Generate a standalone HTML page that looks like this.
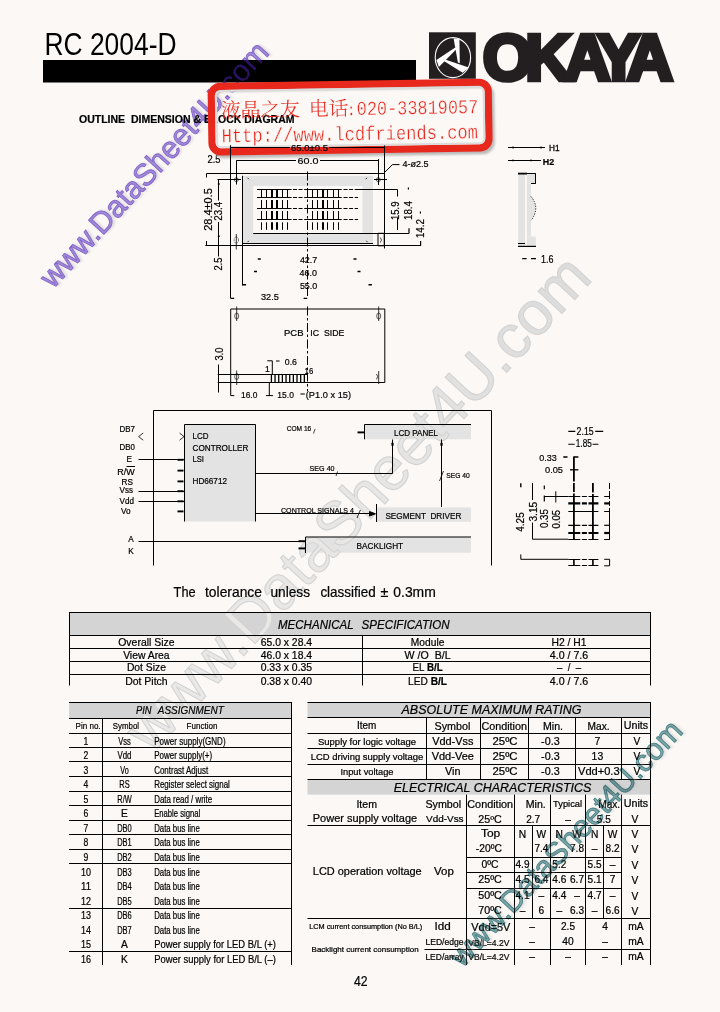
<!DOCTYPE html>
<html lang="en"><head><meta charset="utf-8"><title>RC 2004-D</title>
<style>
html,body{margin:0;padding:0;background:#fcf8f5;}
body{width:720px;height:1012px;overflow:hidden;position:relative;}
svg{position:absolute;left:0;top:0;display:block;}
text{font-family:"Liberation Sans",sans-serif;fill:#000;stroke:#000;stroke-width:0.2px;white-space:pre;}
.b{font-weight:bold;}
.tb text{stroke:#000;stroke-width:0.22px;}
.i{font-style:italic;}
.ln path,.ln line,.ln circle,.ln ellipse{stroke:#000;fill:none;}
.stamp text{font-family:"Liberation Mono","Noto Serif CJK SC",monospace;fill:#e8261c;stroke:#fcf8f5;stroke-width:0.35px;}
</style></head><body>
<svg width="720" height="1012" viewBox="0 0 720 1012">
<defs><filter id="bl" x="-5%" y="-50%" width="110%" height="200%"><feGaussianBlur stdDeviation="0.9"/></filter><filter id="bl2" x="-5%" y="-5%" width="110%" height="110%"><feGaussianBlur stdDeviation="1.2"/></filter></defs>
<rect x="0" y="0" width="720" height="1012" fill="#fcf8f5" stroke="none" />
<g id="fills"><rect x="242.5" y="175.8" width="130.5" height="68.2" fill="#e3e3e3" stroke="none" /><rect x="253.2" y="186" width="109.3" height="47.3" fill="#fcf8f5" stroke="none" /><rect x="518.2" y="173.5" width="6.8" height="72.8" fill="#e3e3e3" stroke="none" /><rect x="526.8" y="173.5" width="9" height="10" fill="#e3e3e3" stroke="none" /><rect x="526.8" y="183.5" width="4.2" height="53" fill="#e3e3e3" stroke="none" /><rect x="526.8" y="236.5" width="9" height="9.8" fill="#e3e3e3" stroke="none" /><path d="M531 196.5Q540.5 208 531 220.5Z" fill="#e3e3e3" stroke="none"/><rect x="184.5" y="424.5" width="71.5" height="97" fill="#e3e3e3" stroke="none" /><rect x="364.7" y="425" width="106.3" height="14.3" fill="#e3e3e3" stroke="none" /><rect x="376.8" y="507.4" width="94.2" height="14.4" fill="#e3e3e3" stroke="none" /><rect x="305.5" y="537.2" width="165.5" height="15.5" fill="#e3e3e3" stroke="none" /><rect x="69" y="612" width="581.5" height="23.5" fill="#d4d4d4" stroke="none" /><rect x="69" y="702" width="222.5" height="16.2" fill="#d4d4d4" stroke="none" /><rect x="307.5" y="702.5" width="343" height="15" fill="#d4d4d4" stroke="none" /><rect x="307.5" y="780" width="343" height="14.6" fill="#d4d4d4" stroke="none" /><defs><linearGradient id="wg" gradientUnits="userSpaceOnUse" x1="0" y1="0" x2="650" y2="0"><stop offset="0" stop-color="#eae9e8"/><stop offset="0.55" stop-color="#e7e6e5"/><stop offset="0.8" stop-color="#dfdfdf"/><stop offset="1" stop-color="#dcdcdc"/></linearGradient></defs><g id="wm2" transform="translate(151.6 754.8) rotate(-47.1)"><text x="0" y="0" font-size="61.2" textLength="649.6" lengthAdjust="spacingAndGlyphs" style="fill:url(#wg);stroke:#d3d3d3;stroke-width:1.1px">www.DataSheet4U.com</text></g></g>
<g id="header">
<text x="44.5" y="54.7" font-size="31" textLength="132" lengthAdjust="spacingAndGlyphs" style="stroke:none">RC 2004-D</text>
<rect x="429" y="32.3" width="46.8" height="46.5" fill="#231f20" stroke="none" />
<ellipse cx="452.9" cy="57.6" rx="17.7" ry="20" fill="none" stroke="#fff" stroke-width="1.1"/>
<g fill="#fff" stroke="none"><path d="M453.6 38.4 L459.4 38.8 L459.8 63.2 L457.9 62.4 Z"/><path d="M436.4 59.9 L438.9 66.9 L456.8 48.8 L455.2 47.5 Z"/><path d="M468.7 67.6 L462.7 72.7 L443.5 60.8 L445.8 59.8 Z"/></g>
<text x="482.8" y="80.4" font-size="64" class="b" letter-spacing="-7.3" style="fill:#231f20;stroke:#231f20;stroke-width:4.6px;stroke-linejoin:miter">OKAYA</text>
</g>
<defs><clipPath id="barclip"><rect x="43" y="60" width="373" height="22.5"/></clipPath></defs>
<g id="wm1" transform="translate(53.1 289.6) rotate(-47.4)">
<text x="2.2" y="2.2" font-size="30.55" textLength="321" lengthAdjust="spacingAndGlyphs" style="fill:#b5b5bd;stroke:none" filter="url(#bl)" opacity="0.45">www.DataSheet4U.com</text>
<text x="0" y="0" font-size="30.55" textLength="321" lengthAdjust="spacingAndGlyphs" style="fill:#a08ad9;stroke:#8566c8;stroke-width:0.9px">www.DataSheet4U.com</text>
</g>
<rect x="43" y="60" width="373" height="22.5" fill="#000" stroke="none" />
<g clip-path="url(#barclip)"><g transform="translate(53.1 289.6) rotate(-47.4)">
<text x="0" y="0" font-size="30.55" textLength="321" lengthAdjust="spacingAndGlyphs" style="fill:#2c1262;stroke:none">www.DataSheet4U.com</text>
</g></g>
<text x="79" y="123.4" font-size="10" textLength="215.5" lengthAdjust="spacingAndGlyphs" class="b">OUTLINE  DIMENSION &amp; BLOCK DIAGRAM</text>
<g id="outline" class="ln">
<path d="M230.8 147.5L290 147.5" stroke-width="1" />
<path d="M329 147.5L384.2 147.5" stroke-width="1" />
<text x="309.5" y="150.6" font-size="9.6" text-anchor="middle" textLength="37" lengthAdjust="spacingAndGlyphs">65.0±0.5</text>
<path d="M236.3 160.5L296 160.5" stroke-width="1" />
<path d="M320 160.5L378.3 160.5" stroke-width="1" />
<text x="308" y="164" font-size="9.6" text-anchor="middle" textLength="21" lengthAdjust="spacingAndGlyphs">60.0</text>
<text x="207.5" y="163.4" font-size="10" textLength="13" lengthAdjust="spacingAndGlyphs">2.5</text>
<path d="M230.5 145.5L230.5 298.5" stroke-width="1" />
<path d="M384.5 145.5L384.5 248.5" stroke-width="1" />
<path d="M236.5 160.5L236.5 184.5" stroke-width="1" />
<path d="M378.5 159L378.5 185" stroke-width="1" />
<path d="M206.3 173.5L384.2 173.5" stroke-width="1" />
<path d="M205.3 245.5L421 245.5" stroke-width="1" />
<path d="M206.5 173.8L206.5 177.5" stroke-width="1" />
<path d="M206.5 241L206.5 245.8" stroke-width="1" />
<path d="M231 179.5L241 179.5" stroke-width="1" />
<path d="M374 179.5L387 179.5" stroke-width="1" />
<circle cx="236.3" cy="179.7" r="2" stroke-width="0.6"/>
<circle cx="378.3" cy="179.7" r="2" stroke-width="0.6"/>
<path d="M236.3 234L236.3 249.5" stroke-width="0.8" />
<ellipse cx="236.3" cy="240" rx="2.2" ry="3.2" stroke-width="0.6" stroke-dasharray="1.5 1"/>
<path d="M378 233.3H384.2V245.8H378Z" stroke-width="1" />
<path d="M380.3 237.5Q382.6 240 380.3 242.6" stroke-width="0.7" />
<path d="M242.5 175.8L242.5 285.5" stroke-width="1" />
<path d="M242.5 243.5L373 243.5" stroke-width="1" />
<path d="M253.2 233.5L409 233.5" stroke-width="1" />
<path d="M247.5 177.8l1.4 1.4M247.5 242.2l1.4 -1.4M367 177.8l-1.2 1.4M367.5 242.2l-1.2 -1.4" stroke-width="0.8" />
<text transform="translate(211.6 209.5) rotate(-90)" font-size="10" text-anchor="middle" textLength="42.5" lengthAdjust="spacingAndGlyphs">28.4±0.5</text>
<path d="M217.5 179.5L231 179.5" stroke-width="1" />
<path d="M218.5 179.7L218.5 200.5" stroke-width="1" />
<path d="M218.5 222L218.5 256.5" stroke-width="1" />
<text transform="translate(222.4 211.3) rotate(-90)" font-size="10" text-anchor="middle" textLength="19" lengthAdjust="spacingAndGlyphs">23.4</text>
<path d="M218.8 183.2v1.6M218.8 235.4v1.6" stroke-width="1.8" />
<text transform="translate(222 264) rotate(-90)" font-size="10" text-anchor="middle" textLength="13" lengthAdjust="spacingAndGlyphs">2.5</text>
<path d="M307.5 171.5L307.5 298.5" stroke-width="1" stroke-dasharray="9 2.5 2.5 2.5"/>
<path d="M307.5 306.5L307.5 391" stroke-width="1" stroke-dasharray="9 2.5 2.5 2.5"/>
<path d="M261.5 189.5L261.5 197.5" stroke-width="1" />
<path d="M266.5 189.5L266.5 197.5" stroke-width="1" />
<path d="M272 189.5L272 197.5" stroke-width="2" />
<path d="M277 189.5L277 197.5" stroke-width="2" />
<path d="M282.5 189.5L282.5 197.5" stroke-width="1" />
<path d="M287.5 189.5L287.5 197.5" stroke-width="1" />
<path d="M312.5 189.5L312.5 197.5" stroke-width="1" />
<path d="M317.5 189.5L317.5 197.5" stroke-width="1" />
<path d="M323 189.5L323 197.5" stroke-width="2" />
<path d="M327.5 189.5L327.5 197.5" stroke-width="1" />
<path d="M333.5 189.5L333.5 197.5" stroke-width="1" />
<path d="M338.5 189.5L338.5 197.5" stroke-width="1" />
<path d="M261.5 200L261.5 208" stroke-width="1" />
<path d="M266.5 200L266.5 208" stroke-width="1" />
<path d="M272 200L272 208" stroke-width="2" />
<path d="M277 200L277 208" stroke-width="2" />
<path d="M282.5 200L282.5 208" stroke-width="1" />
<path d="M287.5 200L287.5 208" stroke-width="1" />
<path d="M312.5 200L312.5 208" stroke-width="1" />
<path d="M317.5 200L317.5 208" stroke-width="1" />
<path d="M323 200L323 208" stroke-width="2" />
<path d="M327.5 200L327.5 208" stroke-width="1" />
<path d="M333.5 200L333.5 208" stroke-width="1" />
<path d="M338.5 200L338.5 208" stroke-width="1" />
<path d="M261.5 211L261.5 219" stroke-width="1" />
<path d="M266.5 211L266.5 219" stroke-width="1" />
<path d="M272 211L272 219" stroke-width="2" />
<path d="M277 211L277 219" stroke-width="2" />
<path d="M282.5 211L282.5 219" stroke-width="1" />
<path d="M287.5 211L287.5 219" stroke-width="1" />
<path d="M312.5 211L312.5 219" stroke-width="1" />
<path d="M317.5 211L317.5 219" stroke-width="1" />
<path d="M323 211L323 219" stroke-width="2" />
<path d="M327.5 211L327.5 219" stroke-width="1" />
<path d="M333.5 211L333.5 219" stroke-width="1" />
<path d="M338.5 211L338.5 219" stroke-width="1" />
<path d="M261.5 222.3L261.5 229.8" stroke-width="1" />
<path d="M266.5 222.3L266.5 229.8" stroke-width="1" />
<path d="M272 222.3L272 229.8" stroke-width="2" />
<path d="M277 222.3L277 229.8" stroke-width="2" />
<path d="M282.5 222.3L282.5 229.8" stroke-width="1" />
<path d="M287.5 222.3L287.5 229.8" stroke-width="1" />
<path d="M312.5 222.3L312.5 229.8" stroke-width="1" />
<path d="M317.5 222.3L317.5 229.8" stroke-width="1" />
<path d="M323 222.3L323 229.8" stroke-width="2" />
<path d="M327.5 222.3L327.5 229.8" stroke-width="1" />
<path d="M333.5 222.3L333.5 229.8" stroke-width="1" />
<path d="M338.5 222.3L338.5 229.8" stroke-width="1" />
<path d="M257 189.5L291.5 189.5" stroke-width="1" />
<path d="M293 189.5L304 189.5" stroke-width="1" stroke-dasharray="4 1.6"/>
<path d="M304.2 189.5L341.7 189.5" stroke-width="1" />
<path d="M343.5 189.5L358 189.5" stroke-width="1" stroke-dasharray="4 1.6"/>
<path d="M257 197.5L291.5 197.5" stroke-width="1" />
<path d="M293 197.5L304 197.5" stroke-width="1" stroke-dasharray="4 1.6"/>
<path d="M304.2 197.5L341.7 197.5" stroke-width="1" />
<path d="M343.5 197.5L358 197.5" stroke-width="1" stroke-dasharray="4 1.6"/>
<path d="M257 208.5L291.5 208.5" stroke-width="1" />
<path d="M293 208.5L304 208.5" stroke-width="1" stroke-dasharray="4 1.6"/>
<path d="M304.2 208.5L341.7 208.5" stroke-width="1" />
<path d="M343.5 208.5L358 208.5" stroke-width="1" stroke-dasharray="4 1.6"/>
<path d="M257 219.5L291.5 219.5" stroke-width="1" />
<path d="M293 219.5L304 219.5" stroke-width="1" stroke-dasharray="4 1.6"/>
<path d="M304.2 219.5L341.7 219.5" stroke-width="1" />
<path d="M343.5 219.5L358 219.5" stroke-width="1" stroke-dasharray="4 1.6"/>
<path d="M358 189.5L397.5 189.5" stroke-width="1" />
<path d="M397.5 189.5L397.5 196.5" stroke-width="1" />
<path d="M397.5 218L397.5 230" stroke-width="1" />
<text transform="translate(398.8 210.8) rotate(-90)" font-size="10" text-anchor="middle" textLength="18.5" lengthAdjust="spacingAndGlyphs">15.9</text>
<text transform="translate(411.6 210.5) rotate(-90)" font-size="10" text-anchor="middle" textLength="19" lengthAdjust="spacingAndGlyphs">18.4</text>
<text transform="translate(423.8 228.6) rotate(-90)" font-size="10" text-anchor="middle" textLength="19" lengthAdjust="spacingAndGlyphs">14.2</text>
<path d="M408.4 187.6v2M409 228.3v5.2M420.4 211.6v2M420.6 241v4.8" stroke-width="1.2" />
<path d="M384 173L392.5 164.6H399.5" stroke-width="1" />
<text x="402.5" y="167" font-size="9.2" textLength="26" lengthAdjust="spacingAndGlyphs">4-ø2.5</text>
<path d="M257.8 259h3M353.5 259h3M254 271.5h3M357.5 271.5h3M242.5 284.8h3.6M368.5 284.8h3.4" stroke-width="1.5" />
<text x="308.6" y="262.9" font-size="9.2" text-anchor="middle" textLength="17.4" lengthAdjust="spacingAndGlyphs">42.7</text>
<text x="308.2" y="275.9" font-size="9.2" text-anchor="middle" textLength="17.4" lengthAdjust="spacingAndGlyphs">46.0</text>
<text x="308.6" y="288.7" font-size="9.2" text-anchor="middle" textLength="17.4" lengthAdjust="spacingAndGlyphs">55.0</text>
<text x="261" y="300.3" font-size="9.4" textLength="17.8" lengthAdjust="spacingAndGlyphs">32.5</text>
<path d="M230.8 298.3h3.4M303.6 298.3h3.6" stroke-width="1.3" />
<path d="M230.7 309H384.8V382.5H230.7Z" stroke-width="1" />
<path d="M236.7 306.5L236.7 321" stroke-width="0.8" />
<ellipse cx="236.7" cy="316" rx="2" ry="3" stroke-width="0.6"/>
<path d="M378.7 306.5L378.7 321" stroke-width="0.8" />
<ellipse cx="378.7" cy="316" rx="2" ry="3" stroke-width="0.6"/>
<path d="M236.7 370.5L236.7 385" stroke-width="0.8" />
<ellipse cx="236.7" cy="376.6" rx="2" ry="3" stroke-width="0.6"/>
<path d="M378.7 371L378.7 384" stroke-width="0.8" />
<path d="M376.6 374Q378.6 376.5 376.6 379.4" stroke-width="0.7" />
<text x="284" y="335.6" font-size="9" textLength="19.5" lengthAdjust="spacingAndGlyphs">PCB</text>
<text x="310.3" y="335.6" font-size="9" textLength="34" lengthAdjust="spacingAndGlyphs">IC  SIDE</text>
<text transform="translate(222.5 354) rotate(-90)" font-size="10" text-anchor="middle" textLength="13" lengthAdjust="spacingAndGlyphs">3.0</text>
<path d="M218.5 364.5L218.5 392.5" stroke-width="1" />
<path d="M217.7 374.5L268 374.5" stroke-width="1" />
<path d="M217.7 382.5L231 382.5" stroke-width="1" />
<path d="M268 374.5L307 374.5" stroke-width="1" />
<path d="M271.4 374.3L271.4 382.5" stroke-width="1.3" />
<path d="M275.06 374.3L275.06 382.5" stroke-width="1.3" />
<path d="M278.72 374.3L278.72 382.5" stroke-width="1.3" />
<path d="M282.38 374.3L282.38 382.5" stroke-width="1.3" />
<path d="M286.04 374.3L286.04 382.5" stroke-width="1.3" />
<path d="M289.7 374.3L289.7 382.5" stroke-width="1.3" />
<path d="M293.36 374.3L293.36 382.5" stroke-width="1.3" />
<path d="M297.02 374.3L297.02 382.5" stroke-width="1.3" />
<path d="M300.68 374.3L300.68 382.5" stroke-width="1.3" />
<path d="M304.34 374.3L304.34 382.5" stroke-width="1.3" />
<text x="265" y="372" font-size="8.6">1</text>
<text x="304.6" y="373.6" font-size="8.6" textLength="8.6" lengthAdjust="spacingAndGlyphs">16</text>
<path d="M267.3 360.8H272.3V374M276 361h3.6" stroke-width="1" />
<text x="284.8" y="364.5" font-size="9.5" textLength="12.2" lengthAdjust="spacingAndGlyphs">0.6</text>
<path d="M230.7 382.5V395.6H234.3M269.3 383V395.6M266 395.6h7M300.4 394h4.4" stroke-width="1" />
<text x="241" y="397.7" font-size="9.6" textLength="16.4" lengthAdjust="spacingAndGlyphs">16.0</text>
<text x="277.3" y="397.7" font-size="9.6" textLength="16.6" lengthAdjust="spacingAndGlyphs">15.0</text>
<text x="305.8" y="397.7" font-size="9.6" textLength="45.2" lengthAdjust="spacingAndGlyphs">(P1.0 x 15)</text>
</g>
<g id="side" class="ln">
<path d="M508 147.5L545 147.5" stroke-width="1" />
<path d="M513 146.6v1.8M541 146.6v1.8" stroke-width="1.2" />
<text x="549" y="150.7" font-size="9.4" textLength="10.6" lengthAdjust="spacingAndGlyphs" style="stroke:#000;stroke-width:0.3px">H1</text>
<path d="M508 160.5L541 160.5" stroke-width="1" />
<path d="M513 159.5v1.8M531 159.5v1.8" stroke-width="1.2" />
<text x="542.8" y="164.9" font-size="9.4" textLength="11.4" lengthAdjust="spacingAndGlyphs" class="b">H2</text>
<path d="M531 196.5Q540.5 208 531 220.5" stroke-width="0.9" stroke-dasharray="1.2 1.4"/>
<path d="M518 173.6L527 173.6" stroke-width="1.8" />
<path d="M527 173.5L535.9 173.5" stroke-width="1" />
<path d="M535.5 173.6L535.5 183.5" stroke-width="1" />
<path d="M531 183.5L535.8 183.5" stroke-width="1" />
<path d="M518 243.5L525 243.5" stroke-width="1" />
<path d="M518 246.4L536 246.4" stroke-width="1.2" />
<path d="M522.2 258.7h4.4M531 258.7h5" stroke-width="1.2" />
<text x="541" y="262.6" font-size="10" textLength="12.4" lengthAdjust="spacingAndGlyphs">1.6</text>
</g>
<g id="block" class="ln">
<path d="M153.5 565.5V410.5H491.5V565.5" stroke-width="1" />
<path d="M184.5 521.5V424.5H255.5V521.5" stroke-width="1" />
<text x="192.5" y="439.4" font-size="8.4" textLength="16" lengthAdjust="spacingAndGlyphs">LCD</text>
<text x="192.5" y="451" font-size="8.4" textLength="56" lengthAdjust="spacingAndGlyphs">CONTROLLER</text>
<text x="192.5" y="461.9" font-size="8.4" textLength="11.5" lengthAdjust="spacingAndGlyphs">LSI</text>
<text x="192.5" y="483.7" font-size="8.4" textLength="34.5" lengthAdjust="spacingAndGlyphs">HD66712</text>
<text x="119.6" y="431.8" font-size="8.2" textLength="15.4" lengthAdjust="spacingAndGlyphs">DB7</text>
<text x="119.6" y="449.6" font-size="8.2" textLength="15.4" lengthAdjust="spacingAndGlyphs">DB0</text>
<text x="126.6" y="462.4" font-size="8.2">E</text>
<text x="117.2" y="475" font-size="8.2" textLength="17.4" lengthAdjust="spacingAndGlyphs">R/W</text>
<path d="M126.5 466.5L135 466.5" stroke-width="1" />
<text x="121.6" y="484.6" font-size="8.2" textLength="11.4" lengthAdjust="spacingAndGlyphs">RS</text>
<text x="119.6" y="493.4" font-size="8.2" textLength="13.4" lengthAdjust="spacingAndGlyphs">Vss</text>
<text x="119.6" y="504.2" font-size="8.2" textLength="14.4" lengthAdjust="spacingAndGlyphs">Vdd</text>
<text x="121" y="514.4" font-size="8.2" textLength="9.6" lengthAdjust="spacingAndGlyphs">Vo</text>
<text x="128.2" y="542" font-size="8.2">A</text>
<text x="128.2" y="554.3" font-size="8.2">K</text>
<path d="M143.2 433L138.6 436.6L143.2 440.2M179.6 433L184 436.6L179.6 440.2" stroke-width="0.8" />
<path d="M138.5 459.5L184.5 459.5" stroke-width="1" />
<path d="M138.5 491.5L184.5 491.5" stroke-width="1" />
<path d="M138.5 501.5L184.5 501.5" stroke-width="1" />
<path d="M177.5 459.8L183.5 459.8" stroke-width="1.9" />
<path d="M177.5 470.6L183.5 470.6" stroke-width="1.9" />
<path d="M177.5 481.4L183.5 481.4" stroke-width="1.9" />
<path d="M177.5 491.2L183.5 491.2" stroke-width="1.9" />
<path d="M177.5 501.3L183.5 501.3" stroke-width="1.9" />
<path d="M177.5 511.4L183.5 511.4" stroke-width="1.9" />
<path d="M138.5 541.5L305 541.5" stroke-width="1" />
<path d="M255.5 473.5L392.5 473.5" stroke-width="1" />
<path d="M392.5 473.4L392.5 439.5" stroke-width="1" />
<path d="M255.5 513.5L370 513.5" stroke-width="1" />
<path d="M369.5 511.6L375.5 513.8L369.5 516Z" stroke-width="1" style="fill:#000"/>
<path d="M392.5 442.8v3M441.5 442.8v3" stroke-width="2.2" />
<path d="M441.5 439.5L441.5 507" stroke-width="1" />
<path d="M364.5 439.3V424.5H471" stroke-width="1" />
<path d="M357.5 432.4L364 432.4" stroke-width="1.9" />
<text x="394" y="435.7" font-size="8.2" textLength="44" lengthAdjust="spacingAndGlyphs">LCD PANEL</text>
<text x="286.7" y="430.5" font-size="7.2" textLength="24.6" lengthAdjust="spacingAndGlyphs">COM 16</text>
<path d="M313.5 433.5l1.6 -4.6" stroke-width="0.7" />
<text x="309.6" y="471.4" font-size="7.2" textLength="25" lengthAdjust="spacingAndGlyphs">SEG 40</text>
<path d="M336 476l1.6 -4.6" stroke-width="0.7" />
<text x="446.3" y="477.9" font-size="7.2" textLength="23.4" lengthAdjust="spacingAndGlyphs">SEG 40</text>
<path d="M439.5 481l4 -10" stroke-width="0.8" />
<path d="M376.5 504L376.5 522" stroke-width="1" />
<text x="385.4" y="518.8" font-size="8.4" textLength="76" lengthAdjust="spacingAndGlyphs">SEGMENT  DRIVER</text>
<text x="281" y="513" font-size="7.1" textLength="73" lengthAdjust="spacingAndGlyphs">CONTROL SIGNALS 4</text>
<path d="M357 518l3.4 -8" stroke-width="0.8" />
<path d="M305.5 553V537H471" stroke-width="1" />
<text x="356.5" y="548.8" font-size="8.3" textLength="46.6" lengthAdjust="spacingAndGlyphs">BACKLIGHT</text>
<path d="M298.5 541.2L305 541.2" stroke-width="1.9" />
<path d="M298.5 548.4L305 548.4" stroke-width="1.9" />
</g>
<g id="dots" class="ln">
<text x="576.6" y="434.8" font-size="10.2" textLength="17" lengthAdjust="spacingAndGlyphs">2.15</text>
<path d="M568.3 431.4h7M595.2 431.4h8" stroke-width="1.1" />
<text x="575.8" y="447.2" font-size="10.2" textLength="16" lengthAdjust="spacingAndGlyphs">1.85</text>
<path d="M568.3 444.2h6.4M592.6 444.2h5.8" stroke-width="1.1" />
<text x="539.2" y="460.9" font-size="9.8" textLength="17.6" lengthAdjust="spacingAndGlyphs">0.33</text>
<path d="M563.3 457h4.2M573.9 457H578.4" stroke-width="1.3" />
<text x="545" y="473.4" font-size="9.8" textLength="18" lengthAdjust="spacingAndGlyphs">0.05</text>
<path d="M570 469.8h8.4" stroke-width="1.3" />
<path d="M573.9 456.4L573.9 539.4" stroke-width="1.8" stroke-dasharray="25 1.6 9 1.6 100"/>
<path d="M592.9 483L592.9 539.4" stroke-width="1.8" stroke-dasharray="9.5 1.6 100"/>
<path d="M609.5 483L609.5 539.4" stroke-width="1" stroke-dasharray="6 2 8 2 5 2 100"/>
<path d="M568.3 496.5L598.4 496.5" stroke-width="1" stroke-dasharray="12 1.6 5 1.6 100"/>
<path d="M604.2 496.5L610 496.5" stroke-width="1" />
<path d="M568.3 503.4L598.4 503.4" stroke-width="2.2" stroke-dasharray="12 1.6 5 1.6 100"/>
<path d="M604.2 503.4L610 503.4" stroke-width="2.2" />
<path d="M568.3 511.5L598.4 511.5" stroke-width="1" />
<path d="M604.2 511.5L610 511.5" stroke-width="1" />
<path d="M568.3 525.3L598.4 525.3" stroke-width="1.2" stroke-dasharray="12 1.6 5 1.6 100"/>
<path d="M604.2 525.3L610 525.3" stroke-width="1.2" />
<path d="M568.3 533L598.4 533" stroke-width="2.2" stroke-dasharray="12 1.6 5 1.6 100"/>
<path d="M604.2 533L610 533" stroke-width="2.2" />
<path d="M568.3 539.5L598.4 539.5" stroke-width="1" stroke-dasharray="12 1.6 5 1.6 100"/>
<path d="M604.2 539.5L610 539.5" stroke-width="1" />
<path d="M568.3 559.5L598.4 559.5" stroke-width="1" stroke-dasharray="12 1.6 5 1.6 100"/>
<path d="M568.3 565.5L598.4 565.5" stroke-width="1" stroke-dasharray="12 1.6 5 1.6 100"/>
<path d="M573.9 559.3v6.5M592.9 559.3v6.5" stroke-width="1.6" />
<path d="M604.2 559.3H609.6V565.8H604.2" stroke-width="1" />
<text transform="translate(524.4 522) rotate(-90)" font-size="10" text-anchor="middle" textLength="19.4" lengthAdjust="spacingAndGlyphs">4.25</text>
<path d="M520.8 483.3v4" stroke-width="1.4" />
<text transform="translate(536.6 511.7) rotate(-90)" font-size="10" text-anchor="middle" textLength="19.8" lengthAdjust="spacingAndGlyphs">3.15</text>
<path d="M532.5 483V500M532.5 522.6V539.2H568.3" stroke-width="1" />
<text transform="translate(548.3 518.6) rotate(-90)" font-size="10" text-anchor="middle" textLength="19" lengthAdjust="spacingAndGlyphs">0.35</text>
<path d="M544.3 485.4v3.8M544.3 495.6v6" stroke-width="1.2" />
<path d="M544.3 496.5L568.3 496.5" stroke-width="1" />
<text transform="translate(560.3 519.2) rotate(-90)" font-size="10" text-anchor="middle" textLength="18.4" lengthAdjust="spacingAndGlyphs">0.05</text>
<path d="M555.8 491.3v11.2" stroke-width="1" />
<path d="M520.8 554.4V559.3H568.3" stroke-width="1" />
</g>
<g class="tb">
<text x="173.6" y="596.6" font-size="14.3" textLength="22" lengthAdjust="spacingAndGlyphs">The</text>
<text x="205" y="596.6" font-size="14.3" textLength="57" lengthAdjust="spacingAndGlyphs">tolerance</text>
<text x="270.4" y="596.6" font-size="14.3" textLength="39.6" lengthAdjust="spacingAndGlyphs">unless</text>
<text x="320.4" y="596.6" font-size="14.3" textLength="55.4" lengthAdjust="spacingAndGlyphs">classified</text>
<text x="380.6" y="596.6" font-size="14.3">±</text>
<text x="393.3" y="596.6" font-size="14.3" textLength="42.5" lengthAdjust="spacingAndGlyphs">0.3mm</text>
</g>
<g id="mech" class="ln tb">
<path d="M69 612.5L651 612.5" stroke-width="1" />
<path d="M69.5 612L69.5 685.5" stroke-width="1" />
<path d="M650.5 612L650.5 685.5" stroke-width="1" />
<path d="M69 635.5L651 635.5" stroke-width="1" />
<path d="M69 648.5L651 648.5" stroke-width="1" />
<path d="M69 661.5L651 661.5" stroke-width="1" />
<path d="M69 674.5L651 674.5" stroke-width="1" />
<path d="M362.5 635.5L362.5 685.5" stroke-width="1" />
<text x="278" y="629.3" font-size="12.8" textLength="75.6" lengthAdjust="spacingAndGlyphs" class="i">MECHANICAL</text>
<text x="361.6" y="629.3" font-size="12.8" textLength="88" lengthAdjust="spacingAndGlyphs" class="i">SPECIFICATION</text>
<text x="146.4" y="645.7" font-size="10.6" text-anchor="middle" textLength="56.3" lengthAdjust="spacingAndGlyphs">Overall Size</text>
<text x="286.4" y="645.7" font-size="10.6" text-anchor="middle" textLength="51.4" lengthAdjust="spacingAndGlyphs">65.0 x 28.4</text>
<text x="427.6" y="645.7" font-size="10.6" text-anchor="middle" textLength="33.5" lengthAdjust="spacingAndGlyphs">Module</text>
<text x="569" y="645.7" font-size="10.6" text-anchor="middle" textLength="35" lengthAdjust="spacingAndGlyphs">H2 / H1</text>
<text x="146.4" y="658.8" font-size="10.6" text-anchor="middle" textLength="46.5" lengthAdjust="spacingAndGlyphs">View Area</text>
<text x="286.4" y="658.8" font-size="10.6" text-anchor="middle" textLength="51.4" lengthAdjust="spacingAndGlyphs">46.0 x 18.4</text>
<text x="427.6" y="658.8" font-size="10.6" text-anchor="middle" textLength="46" lengthAdjust="spacingAndGlyphs">W /O  B/L</text>
<text x="569" y="658.8" font-size="10.6" text-anchor="middle" textLength="38.5" lengthAdjust="spacingAndGlyphs">4.0 / 7.6</text>
<text x="146.4" y="671.4" font-size="10.6" text-anchor="middle" textLength="39" lengthAdjust="spacingAndGlyphs">Dot Size</text>
<text x="286.4" y="671.4" font-size="10.6" text-anchor="middle" textLength="51.4" lengthAdjust="spacingAndGlyphs">0.33 x 0.35</text>
<text x="412.6" y="671.4" font-size="10.6" textLength="30" lengthAdjust="spacingAndGlyphs">EL <tspan class="b">B/L</tspan></text>
<text x="569" y="671.4" font-size="10.6" text-anchor="middle" textLength="24" lengthAdjust="spacingAndGlyphs">–  /  –</text>
<text x="146.4" y="684.6" font-size="10.6" text-anchor="middle" textLength="42.5" lengthAdjust="spacingAndGlyphs">Dot Pitch</text>
<text x="286.4" y="684.6" font-size="10.6" text-anchor="middle" textLength="51.4" lengthAdjust="spacingAndGlyphs">0.38 x 0.40</text>
<text x="408.1" y="684.6" font-size="10.6" textLength="39" lengthAdjust="spacingAndGlyphs">LED <tspan class="b">B/L</tspan></text>
<text x="569" y="684.6" font-size="10.6" text-anchor="middle" textLength="38.5" lengthAdjust="spacingAndGlyphs">4.0 / 7.6</text>
</g>
<g id="pins" class="ln tb">
<path d="M69 702.5L292 702.5" stroke-width="1" />
<path d="M291.5 702L291.5 965" stroke-width="1" />
<path d="M102.5 718.5L102.5 965" stroke-width="1" />
<path d="M69 718.5L292 718.5" stroke-width="1" />
<text x="136" y="714.4" font-size="11.6" textLength="15.6" lengthAdjust="spacingAndGlyphs" class="i">PIN</text>
<text x="157.8" y="714.4" font-size="11.6" textLength="66" lengthAdjust="spacingAndGlyphs" class="i">ASSIGNMENT</text>
<text x="75.6" y="729.1" font-size="9.8" textLength="25" lengthAdjust="spacingAndGlyphs">Pin no.</text>
<text x="112.8" y="729.1" font-size="9.8" textLength="26.2" lengthAdjust="spacingAndGlyphs">Symbol</text>
<text x="186.6" y="729.1" font-size="9.8" textLength="30.8" lengthAdjust="spacingAndGlyphs">Function</text>
<path d="M69 733.5L292 733.5" stroke-width="1" />
<path d="M69 747.5L292 747.5" stroke-width="1" />
<path d="M69 761.5L292 761.5" stroke-width="1" />
<path d="M69 776.5L292 776.5" stroke-width="1" />
<path d="M69 791.5L292 791.5" stroke-width="1" />
<path d="M69 805.5L292 805.5" stroke-width="1" />
<path d="M69 820.5L292 820.5" stroke-width="1" />
<path d="M69 834.5L292 834.5" stroke-width="1" />
<path d="M69 849.5L292 849.5" stroke-width="1" />
<path d="M69 863.5L292 863.5" stroke-width="1" />
<path d="M69 908.5L292 908.5" stroke-width="1" />
<path d="M69 951.5L292 951.5" stroke-width="1" />
<text x="86" y="744.5" font-size="10.4" text-anchor="middle" textLength="4.8" lengthAdjust="spacingAndGlyphs">1</text>
<text x="124.5" y="744.5" font-size="10.2" text-anchor="middle" textLength="12.6" lengthAdjust="spacingAndGlyphs">Vss</text>
<text x="154.2" y="744.5" font-size="10.4" textLength="71.4" lengthAdjust="spacingAndGlyphs">Power supply(GND)</text>
<text x="86" y="759.06" font-size="10.4" text-anchor="middle" textLength="4.8" lengthAdjust="spacingAndGlyphs">2</text>
<text x="124.5" y="759.06" font-size="10.2" text-anchor="middle" textLength="14" lengthAdjust="spacingAndGlyphs">Vdd</text>
<text x="154.2" y="759.06" font-size="10.4" textLength="58" lengthAdjust="spacingAndGlyphs">Power supply(+)</text>
<text x="86" y="773.62" font-size="10.4" text-anchor="middle" textLength="4.8" lengthAdjust="spacingAndGlyphs">3</text>
<text x="124.5" y="773.62" font-size="10.2" text-anchor="middle" textLength="8.4" lengthAdjust="spacingAndGlyphs">Vo</text>
<text x="154.2" y="773.62" font-size="10.4" textLength="54" lengthAdjust="spacingAndGlyphs">Contrast Adjust</text>
<text x="86" y="788.18" font-size="10.4" text-anchor="middle" textLength="4.8" lengthAdjust="spacingAndGlyphs">4</text>
<text x="124.5" y="788.18" font-size="10.2" text-anchor="middle" textLength="10.4" lengthAdjust="spacingAndGlyphs">RS</text>
<text x="154.2" y="788.18" font-size="10.4" textLength="75.7" lengthAdjust="spacingAndGlyphs">Register select signal</text>
<text x="86" y="802.74" font-size="10.4" text-anchor="middle" textLength="4.8" lengthAdjust="spacingAndGlyphs">5</text>
<text x="124.5" y="802.74" font-size="10.2" text-anchor="middle" textLength="14.4" lengthAdjust="spacingAndGlyphs">R/W</text>
<text x="154.2" y="802.74" font-size="10.4" textLength="58" lengthAdjust="spacingAndGlyphs">Data read / write</text>
<text x="86" y="817.3" font-size="10.4" text-anchor="middle" textLength="4.8" lengthAdjust="spacingAndGlyphs">6</text>
<text x="124.5" y="817.3" font-size="10.2" text-anchor="middle">E</text>
<text x="154.2" y="817.3" font-size="10.4" textLength="46" lengthAdjust="spacingAndGlyphs">Enable signal</text>
<text x="86" y="831.86" font-size="10.4" text-anchor="middle" textLength="4.8" lengthAdjust="spacingAndGlyphs">7</text>
<text x="124.5" y="831.86" font-size="10.2" text-anchor="middle" textLength="14.6" lengthAdjust="spacingAndGlyphs">DB0</text>
<text x="154.2" y="831.86" font-size="10.4" textLength="45.6" lengthAdjust="spacingAndGlyphs">Data bus line</text>
<text x="86" y="846.42" font-size="10.4" text-anchor="middle" textLength="4.8" lengthAdjust="spacingAndGlyphs">8</text>
<text x="124.5" y="846.42" font-size="10.2" text-anchor="middle" textLength="14.6" lengthAdjust="spacingAndGlyphs">DB1</text>
<text x="154.2" y="846.42" font-size="10.4" textLength="45.6" lengthAdjust="spacingAndGlyphs">Data bus line</text>
<text x="86" y="860.98" font-size="10.4" text-anchor="middle" textLength="4.8" lengthAdjust="spacingAndGlyphs">9</text>
<text x="124.5" y="860.98" font-size="10.2" text-anchor="middle" textLength="14.6" lengthAdjust="spacingAndGlyphs">DB2</text>
<text x="154.2" y="860.98" font-size="10.4" textLength="45.6" lengthAdjust="spacingAndGlyphs">Data bus line</text>
<text x="86" y="875.54" font-size="10.4" text-anchor="middle" textLength="10" lengthAdjust="spacingAndGlyphs">10</text>
<text x="124.5" y="875.54" font-size="10.2" text-anchor="middle" textLength="14.6" lengthAdjust="spacingAndGlyphs">DB3</text>
<text x="154.2" y="875.54" font-size="10.4" textLength="45.6" lengthAdjust="spacingAndGlyphs">Data bus line</text>
<text x="86" y="890.1" font-size="10.4" text-anchor="middle" textLength="10" lengthAdjust="spacingAndGlyphs">11</text>
<text x="124.5" y="890.1" font-size="10.2" text-anchor="middle" textLength="14.6" lengthAdjust="spacingAndGlyphs">DB4</text>
<text x="154.2" y="890.1" font-size="10.4" textLength="45.6" lengthAdjust="spacingAndGlyphs">Data bus line</text>
<text x="86" y="904.66" font-size="10.4" text-anchor="middle" textLength="10" lengthAdjust="spacingAndGlyphs">12</text>
<text x="124.5" y="904.66" font-size="10.2" text-anchor="middle" textLength="14.6" lengthAdjust="spacingAndGlyphs">DB5</text>
<text x="154.2" y="904.66" font-size="10.4" textLength="45.6" lengthAdjust="spacingAndGlyphs">Data bus line</text>
<text x="86" y="919.22" font-size="10.4" text-anchor="middle" textLength="10" lengthAdjust="spacingAndGlyphs">13</text>
<text x="124.5" y="919.22" font-size="10.2" text-anchor="middle" textLength="14.6" lengthAdjust="spacingAndGlyphs">DB6</text>
<text x="154.2" y="919.22" font-size="10.4" textLength="45.6" lengthAdjust="spacingAndGlyphs">Data bus line</text>
<text x="86" y="933.78" font-size="10.4" text-anchor="middle" textLength="10" lengthAdjust="spacingAndGlyphs">14</text>
<text x="124.5" y="933.78" font-size="10.2" text-anchor="middle" textLength="14.6" lengthAdjust="spacingAndGlyphs">DB7</text>
<text x="154.2" y="933.78" font-size="10.4" textLength="45.6" lengthAdjust="spacingAndGlyphs">Data bus line</text>
<text x="86" y="948.34" font-size="10.4" text-anchor="middle" textLength="10" lengthAdjust="spacingAndGlyphs">15</text>
<text x="124.5" y="948.34" font-size="10.2" text-anchor="middle">A</text>
<text x="154.2" y="948.34" font-size="10.6" textLength="121.7" lengthAdjust="spacingAndGlyphs">Power supply for LED B/L (+)</text>
<text x="86" y="962.9" font-size="10.4" text-anchor="middle" textLength="10" lengthAdjust="spacingAndGlyphs">16</text>
<text x="124.5" y="962.9" font-size="10.2" text-anchor="middle">K</text>
<text x="154.2" y="962.9" font-size="10.6" textLength="121.7" lengthAdjust="spacingAndGlyphs">Power supply for LED B/L (–)</text>
</g>
<g id="absmax" class="ln tb">
<path d="M307.5 702.5L651 702.5" stroke-width="1" />
<path d="M650.5 702L650.5 965" stroke-width="1" />
<path d="M307.5 717.5L650.5 717.5" stroke-width="1" />
<path d="M307.5 733.5L650.5 733.5" stroke-width="1" />
<path d="M307.5 748.5L650.5 748.5" stroke-width="1" />
<path d="M307.5 764.5L650.5 764.5" stroke-width="1" />
<path d="M307.5 779.5L650.5 779.5" stroke-width="1" />
<path d="M426.5 717.6L426.5 779.4" stroke-width="1" />
<path d="M480.5 717.6L480.5 779.4" stroke-width="1" />
<path d="M528.5 717.6L528.5 779.4" stroke-width="1" />
<path d="M575.5 717.6L575.5 779.4" stroke-width="1" />
<path d="M621.5 717.6L621.5 779.4" stroke-width="1" />
<text x="401.5" y="714.2" font-size="12.4" textLength="180" lengthAdjust="spacingAndGlyphs" class="i">ABSOLUTE MAXIMUM RATING</text>
<text x="366.7" y="729.4" font-size="10.4" text-anchor="middle" textLength="19.4" lengthAdjust="spacingAndGlyphs">Item</text>
<text x="452.4" y="730" font-size="10.9" text-anchor="middle" textLength="35.8" lengthAdjust="spacingAndGlyphs">Symbol</text>
<text x="504.2" y="729.6" font-size="10.4" text-anchor="middle" textLength="45.6" lengthAdjust="spacingAndGlyphs">Condition</text>
<text x="553" y="729.8" font-size="10.2" text-anchor="middle" textLength="20" lengthAdjust="spacingAndGlyphs">Min.</text>
<text x="598.6" y="730" font-size="10.2" text-anchor="middle" textLength="22" lengthAdjust="spacingAndGlyphs">Max.</text>
<text x="636" y="729.2" font-size="10.2" text-anchor="middle" textLength="24.4" lengthAdjust="spacingAndGlyphs">Units</text>
<text x="367" y="745" font-size="9.2" text-anchor="middle" textLength="98" lengthAdjust="spacingAndGlyphs">Supply for logic voltage</text>
<text x="452.8" y="745" font-size="10.6" text-anchor="middle" textLength="41.3" lengthAdjust="spacingAndGlyphs">Vdd-Vss</text>
<text x="505" y="745" font-size="10.5" text-anchor="middle" textLength="25" lengthAdjust="spacingAndGlyphs">25ºC</text>
<text x="550.4" y="745" font-size="10.4" text-anchor="middle" textLength="18.6" lengthAdjust="spacingAndGlyphs">-0.3</text>
<text x="597.4" y="745" font-size="10.4" text-anchor="middle">7</text>
<text x="637" y="745" font-size="10.2" text-anchor="middle">V</text>
<text x="367" y="760.2" font-size="9.2" text-anchor="middle" textLength="112.5" lengthAdjust="spacingAndGlyphs">LCD driving supply voltage</text>
<text x="452.8" y="760.2" font-size="10.6" text-anchor="middle" textLength="42.3" lengthAdjust="spacingAndGlyphs">Vdd-Vee</text>
<text x="505" y="760.2" font-size="10.5" text-anchor="middle" textLength="25" lengthAdjust="spacingAndGlyphs">25ºC</text>
<text x="550.4" y="760.2" font-size="10.4" text-anchor="middle" textLength="18.6" lengthAdjust="spacingAndGlyphs">-0.3</text>
<text x="597.4" y="760.2" font-size="10.4" text-anchor="middle" textLength="11.6" lengthAdjust="spacingAndGlyphs">13</text>
<text x="637" y="760.2" font-size="10.2" text-anchor="middle">V</text>
<text x="367" y="775" font-size="9.2" text-anchor="middle" textLength="53" lengthAdjust="spacingAndGlyphs">Input voltage</text>
<text x="452.8" y="775" font-size="10.6" text-anchor="middle" textLength="15.5" lengthAdjust="spacingAndGlyphs">Vin</text>
<text x="505" y="775" font-size="10.5" text-anchor="middle" textLength="25" lengthAdjust="spacingAndGlyphs">25ºC</text>
<text x="550.4" y="775" font-size="10.4" text-anchor="middle" textLength="18.6" lengthAdjust="spacingAndGlyphs">-0.3</text>
<text x="598.8" y="775" font-size="10.4" text-anchor="middle" textLength="41.6" lengthAdjust="spacingAndGlyphs">Vdd+0.3</text>
<text x="637" y="775" font-size="10.2" text-anchor="middle">V</text>
</g>
<g id="elec" class="ln tb">
<text x="393.8" y="791.8" font-size="12.6" textLength="197.5" lengthAdjust="spacingAndGlyphs" class="i">ELECTRICAL CHARACTERISTICS</text>
<path d="M466.5 794.6L466.5 965" stroke-width="1" />
<path d="M514.5 794.6L514.5 965" stroke-width="1" />
<path d="M550.5 794.6L550.5 965" stroke-width="1" />
<path d="M585.5 794.6L585.5 965" stroke-width="1" />
<path d="M621.5 794.6L621.5 965" stroke-width="1" />
<path d="M532.5 825.8L532.5 918.5" stroke-width="1" />
<path d="M603.5 825.8L603.5 918.5" stroke-width="1" />
<path d="M307.5 825.5L650.5 825.5" stroke-width="1" />
<path d="M307.5 918.5L650.5 918.5" stroke-width="1" />
<path d="M466 857.5L621.6 857.5" stroke-width="1" />
<path d="M466 872.5L621.6 872.5" stroke-width="1" />
<path d="M466 888.5L621.6 888.5" stroke-width="1" />
<path d="M424.5 949.5L650.5 949.5" stroke-width="1" />
<text x="366.7" y="807.7" font-size="10.8" text-anchor="middle" textLength="20.6" lengthAdjust="spacingAndGlyphs">Item</text>
<text x="443.3" y="807.7" font-size="10.6" text-anchor="middle" textLength="35.8" lengthAdjust="spacingAndGlyphs">Symbol</text>
<text x="490.2" y="807.7" font-size="10.6" text-anchor="middle" textLength="45.8" lengthAdjust="spacingAndGlyphs">Condition</text>
<text x="535.8" y="808" font-size="10.2" text-anchor="middle" textLength="20" lengthAdjust="spacingAndGlyphs">Min.</text>
<text x="567.6" y="807" font-size="9.2" text-anchor="middle" textLength="29" lengthAdjust="spacingAndGlyphs">Typical</text>
<text x="609.2" y="808" font-size="10.2" text-anchor="middle" textLength="22" lengthAdjust="spacingAndGlyphs">Max.</text>
<text x="636" y="806.6" font-size="10.2" text-anchor="middle" textLength="24.4" lengthAdjust="spacingAndGlyphs">Units</text>
<text x="312.8" y="822.1" font-size="10.8" textLength="104.3" lengthAdjust="spacingAndGlyphs">Power supply voltage</text>
<text x="426" y="822.1" font-size="9.4" textLength="37.6" lengthAdjust="spacingAndGlyphs">Vdd-Vss</text>
<text x="490" y="822.6" font-size="10.2" text-anchor="middle" textLength="23.5" lengthAdjust="spacingAndGlyphs">25ºC</text>
<text x="533.2" y="822.5" font-size="10.2" text-anchor="middle" textLength="14" lengthAdjust="spacingAndGlyphs">2.7</text>
<text x="568" y="822.5" font-size="10.2" text-anchor="middle">–</text>
<text x="603.8" y="822.5" font-size="10.2" text-anchor="middle" textLength="14" lengthAdjust="spacingAndGlyphs">5.5</text>
<text x="635" y="822.8" font-size="10.2" text-anchor="middle">V</text>
<text x="490.6" y="837.4" font-size="10.4" text-anchor="middle" textLength="19.3" lengthAdjust="spacingAndGlyphs">Top</text>
<text x="522.5" y="837.6" font-size="10.2" text-anchor="middle" textLength="7.4" lengthAdjust="spacingAndGlyphs">N</text>
<text x="541.4" y="837.6" font-size="10.2" text-anchor="middle" textLength="9.6" lengthAdjust="spacingAndGlyphs">W</text>
<text x="559.3" y="837.6" font-size="10.2" text-anchor="middle" textLength="7.4" lengthAdjust="spacingAndGlyphs">N</text>
<text x="577" y="837.6" font-size="10.2" text-anchor="middle" textLength="9.6" lengthAdjust="spacingAndGlyphs">W</text>
<text x="594.6" y="837.6" font-size="10.2" text-anchor="middle" textLength="7.4" lengthAdjust="spacingAndGlyphs">N</text>
<text x="612.6" y="837.6" font-size="10.2" text-anchor="middle" textLength="9.6" lengthAdjust="spacingAndGlyphs">W</text>
<text x="635" y="838" font-size="10.2" text-anchor="middle">V</text>
<text x="488.8" y="852.3" font-size="10.4" text-anchor="middle" textLength="26" lengthAdjust="spacingAndGlyphs">-20ºC</text>
<text x="541.4" y="852.3" font-size="10.2" text-anchor="middle" textLength="14" lengthAdjust="spacingAndGlyphs">7.4</text>
<text x="577" y="852.3" font-size="10.2" text-anchor="middle" textLength="14" lengthAdjust="spacingAndGlyphs">7.8</text>
<text x="594.6" y="852.3" font-size="10.2" text-anchor="middle">–</text>
<text x="612.6" y="852.3" font-size="10.2" text-anchor="middle" textLength="14" lengthAdjust="spacingAndGlyphs">8.2</text>
<text x="635" y="852.6" font-size="10.2" text-anchor="middle">V</text>
<text x="490" y="868.4" font-size="10.4" text-anchor="middle" textLength="17" lengthAdjust="spacingAndGlyphs">0ºC</text>
<text x="522.5" y="868.4" font-size="10.2" text-anchor="middle" textLength="14" lengthAdjust="spacingAndGlyphs">4.9</text>
<text x="559.3" y="868.4" font-size="10.2" text-anchor="middle" textLength="14" lengthAdjust="spacingAndGlyphs">5.2</text>
<text x="594.6" y="868.4" font-size="10.2" text-anchor="middle" textLength="14" lengthAdjust="spacingAndGlyphs">5.5</text>
<text x="612.6" y="868.4" font-size="10.2" text-anchor="middle">–</text>
<text x="635" y="868.7" font-size="10.2" text-anchor="middle">V</text>
<text x="490" y="883.4" font-size="10.4" text-anchor="middle" textLength="23.5" lengthAdjust="spacingAndGlyphs">25ºC</text>
<text x="522.5" y="883.4" font-size="10.2" text-anchor="middle" textLength="14" lengthAdjust="spacingAndGlyphs">4.5</text>
<text x="541.4" y="883.4" font-size="10.2" text-anchor="middle" textLength="14" lengthAdjust="spacingAndGlyphs">6.4</text>
<text x="559.3" y="883.4" font-size="10.2" text-anchor="middle" textLength="14" lengthAdjust="spacingAndGlyphs">4.6</text>
<text x="577" y="883.4" font-size="10.2" text-anchor="middle" textLength="14" lengthAdjust="spacingAndGlyphs">6.7</text>
<text x="594.6" y="883.4" font-size="10.2" text-anchor="middle" textLength="14" lengthAdjust="spacingAndGlyphs">5.1</text>
<text x="612.6" y="883.4" font-size="10.2" text-anchor="middle">7</text>
<text x="635" y="883.7" font-size="10.2" text-anchor="middle">V</text>
<text x="490" y="899.3" font-size="10.4" text-anchor="middle" textLength="23.5" lengthAdjust="spacingAndGlyphs">50ºC</text>
<text x="522.5" y="899.3" font-size="10.2" text-anchor="middle" textLength="14" lengthAdjust="spacingAndGlyphs">4.1</text>
<text x="541.4" y="899.3" font-size="10.2" text-anchor="middle">–</text>
<text x="559.3" y="899.3" font-size="10.2" text-anchor="middle" textLength="14" lengthAdjust="spacingAndGlyphs">4.4</text>
<text x="577" y="899.3" font-size="10.2" text-anchor="middle">–</text>
<text x="594.6" y="899.3" font-size="10.2" text-anchor="middle" textLength="14" lengthAdjust="spacingAndGlyphs">4.7</text>
<text x="612.6" y="899.3" font-size="10.2" text-anchor="middle">–</text>
<text x="635" y="899.6" font-size="10.2" text-anchor="middle">V</text>
<text x="490" y="914.3" font-size="10.4" text-anchor="middle" textLength="23.5" lengthAdjust="spacingAndGlyphs">70ºC</text>
<text x="522.5" y="914.3" font-size="10.2" text-anchor="middle">–</text>
<text x="541.4" y="914.3" font-size="10.2" text-anchor="middle">6</text>
<text x="559.3" y="914.3" font-size="10.2" text-anchor="middle">–</text>
<text x="577" y="914.3" font-size="10.2" text-anchor="middle" textLength="14" lengthAdjust="spacingAndGlyphs">6.3</text>
<text x="594.6" y="914.3" font-size="10.2" text-anchor="middle">–</text>
<text x="612.6" y="914.3" font-size="10.2" text-anchor="middle" textLength="14" lengthAdjust="spacingAndGlyphs">6.6</text>
<text x="635" y="914.6" font-size="10.2" text-anchor="middle">V</text>
<text x="312.8" y="874.7" font-size="11" textLength="108.9" lengthAdjust="spacingAndGlyphs">LCD operation voltage</text>
<text x="434" y="874.7" font-size="11" textLength="19.8" lengthAdjust="spacingAndGlyphs">Vop</text>
<text x="309.2" y="928.5" font-size="7.4" textLength="113" lengthAdjust="spacingAndGlyphs">LCM current consumption (No B/L)</text>
<text x="434.6" y="929.8" font-size="10.8" textLength="16.2" lengthAdjust="spacingAndGlyphs">Idd</text>
<text x="471.3" y="930.7" font-size="10.8" textLength="39.1" lengthAdjust="spacingAndGlyphs">Vdd=5V</text>
<text x="311.6" y="952" font-size="7.6" textLength="107" lengthAdjust="spacingAndGlyphs">Backlight current consumption</text>
<text x="425.4" y="945.4" font-size="9.2" textLength="38.2" lengthAdjust="spacingAndGlyphs">LED/edge</text>
<text x="425.4" y="959.8" font-size="9.2" textLength="38.2" lengthAdjust="spacingAndGlyphs">LED/array</text>
<text x="468.2" y="945.6" font-size="9.6" textLength="41.3" lengthAdjust="spacingAndGlyphs">VB/L=4.2V</text>
<text x="468.2" y="960" font-size="9.6" textLength="41.3" lengthAdjust="spacingAndGlyphs">VB/L=4.2V</text>
<text x="532" y="930" font-size="10.2" text-anchor="middle">–</text>
<text x="568" y="930" font-size="10.2" text-anchor="middle" textLength="14" lengthAdjust="spacingAndGlyphs">2.5</text>
<text x="605" y="930" font-size="10.2" text-anchor="middle">4</text>
<text x="636" y="930.4" font-size="10.2" text-anchor="middle" textLength="15.4" lengthAdjust="spacingAndGlyphs">mA</text>
<text x="532" y="945" font-size="10.2" text-anchor="middle">–</text>
<text x="568" y="945" font-size="10.2" text-anchor="middle" textLength="11.4" lengthAdjust="spacingAndGlyphs">40</text>
<text x="605" y="945" font-size="10.2" text-anchor="middle">–</text>
<text x="636" y="945.4" font-size="10.2" text-anchor="middle" textLength="15.4" lengthAdjust="spacingAndGlyphs">mA</text>
<text x="532" y="960" font-size="10.2" text-anchor="middle">–</text>
<text x="568" y="960" font-size="10.2" text-anchor="middle">–</text>
<text x="605" y="960" font-size="10.2" text-anchor="middle">–</text>
<text x="636" y="960.4" font-size="10.2" text-anchor="middle" textLength="15.4" lengthAdjust="spacingAndGlyphs">mA</text>
</g>
<text x="354" y="985.8" font-size="13.8" textLength="13.6" lengthAdjust="spacingAndGlyphs">42</text>
<g id="wm3" transform="translate(462.4 968.4) rotate(-46.8)">
<text x="2.2" y="2.2" font-size="30.8" textLength="324" lengthAdjust="spacingAndGlyphs" style="fill:#b8b8b8;stroke:none" filter="url(#bl)" opacity="0.4">www.DataSheet4U.com</text>
<text x="0" y="0" font-size="30.8" textLength="324" lengthAdjust="spacingAndGlyphs" style="fill:#85b1b4;stroke:#4c8b92;stroke-width:0.9px;mix-blend-mode:multiply">www.DataSheet4U.com</text>
</g>
<g id="stamp" class="stamp" transform="rotate(-0.9 350 117.1)">
<rect x="214" y="87.2" width="278" height="66.6" rx="10" fill="none" stroke="#b9b9b9" stroke-width="5" filter="url(#bl2)"/>
<rect x="211.6" y="84.3" width="277" height="65.6" rx="9" fill="none" stroke="#e8281c" stroke-width="7.2"/>
<rect x="216.2" y="88.9" width="267.8" height="56.4" rx="5" fill="none" stroke="#dcdcdc" stroke-width="2"/>
<g>
<text x="221" y="115.2" font-size="19.8" font-weight="300" style="stroke:none">液晶之友</text>
<text x="309" y="115.2" font-size="19.8" font-weight="300" style="stroke:none">电话</text>
<text x="346.2" y="115.2" font-size="17" textLength="10" lengthAdjust="spacingAndGlyphs">:</text>
<text x="356.8" y="115.2" font-size="19.8" textLength="121.6" lengthAdjust="spacingAndGlyphs">020-33819057</text>
<text x="221.4" y="140.3" font-size="19.8" textLength="256.4" lengthAdjust="spacingAndGlyphs">Http://www.lcdfriends.com</text>
</g>
</g>
<g class="ln">
<path d="M230.8 147.5L290 147.5" stroke-width="1" />
<path d="M329 147.5L384.2 147.5" stroke-width="1" />
<path d="M230.5 145.5L230.5 160" stroke-width="1" />
<path d="M384.5 145.5L384.5 160" stroke-width="1" />
</g>
<text x="309.5" y="150.6" font-size="9.6" text-anchor="middle" textLength="37" lengthAdjust="spacingAndGlyphs">65.0±0.5</text>
</svg></body></html>
